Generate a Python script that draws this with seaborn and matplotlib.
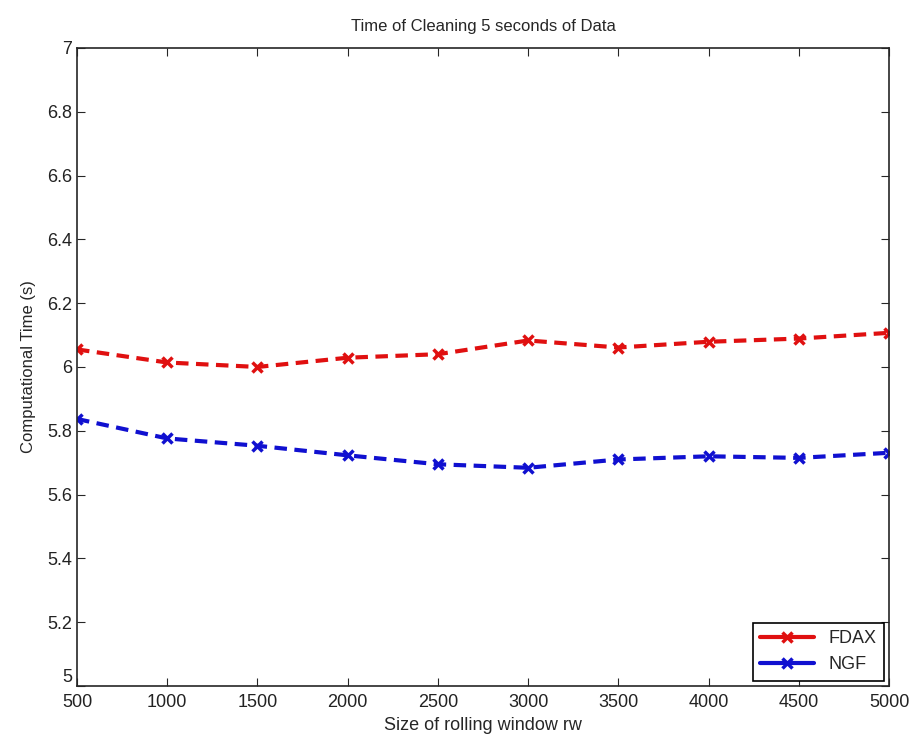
import seaborn as sns
import pandas as pd
from matplotlib import pyplot as plt

window = [500, 1000, 1500, 2000, 2500, 3000, 3500, 4000, 4500, 5000]
fdax = [6.055, 6.014, 6.0, 6.029, 6.04, 6.083, 6.061, 6.079, 6.089, 6.107]
ngf = [5.837, 5.776, 5.753, 5.723, 5.695, 5.684, 5.71, 5.72, 5.715, 5.731]

df = pd.DataFrame({"rw": window * 2,
                   "time": fdax + ngf,
                   "series": ["FDAX"] * len(window) + ["NGF"] * len(window)})

colors = {"FDAX": "#e01010", "NGF": "#1010d0"}

sns.set_style("ticks")
plt.rcParams['font.family'] = ['Liberation Sans', 'DejaVu Sans']

fig = plt.figure(figsize=(9.12, 7.4), dpi=100)
ax = fig.add_axes([0.0844, 0.0730, 0.8904, 0.8622])

sns.lineplot(data=df, x="rw", y="time", hue="series", palette=colors,
             linewidth=3, ax=ax)
for line in ax.get_lines():
    c = line.get_color()
    line.set_linestyle((0, (3, 1.8)))
    line.set_marker("x")
    line.set_markersize(7)
    line.set_markeredgewidth(2.5)
    line.set_markeredgecolor(c)

ax.set_xlim(500, 5000)
ax.set_ylim(5, 7)
ax.set_xticks(window)
ax.set_yticks([5, 5.2, 5.4, 5.6, 5.8, 6, 6.2, 6.4, 6.6, 6.8, 7])
ax.set_yticklabels(["5", "5.2", "5.4", "5.6", "5.8", "6", "6.2", "6.4", "6.6", "6.8", "7"])
ax.tick_params(direction="in", top=True, right=True, labelsize=13, length=6,
               labelcolor="#222222")
ax.tick_params(axis="x", pad=6)
ax.get_yticklabels()[0].set_va("bottom")
for s in ax.spines.values():
    s.set_visible(True)
    s.set_linewidth(1.2)

ax.set_title("Time of Cleaning 5 seconds of Data", fontsize=12, pad=12)
ax.set_xlabel("Size of rolling window rw", fontsize=13, labelpad=4)
ax.set_ylabel("Computational Time (s)", fontsize=12, labelpad=8)

leg = ax.legend(loc="lower right", fontsize=13, fancybox=False, framealpha=1,
                edgecolor="black", borderaxespad=0.3, handlelength=3)
for h in leg.get_lines():
    h.set_linestyle("-")
    h.set_marker("x")
    h.set_markersize(7)
    h.set_markeredgewidth(2.5)
    h.set_markeredgecolor(h.get_color())
leg.get_frame().set_linewidth(1.2)

plt.savefig("out.png")
